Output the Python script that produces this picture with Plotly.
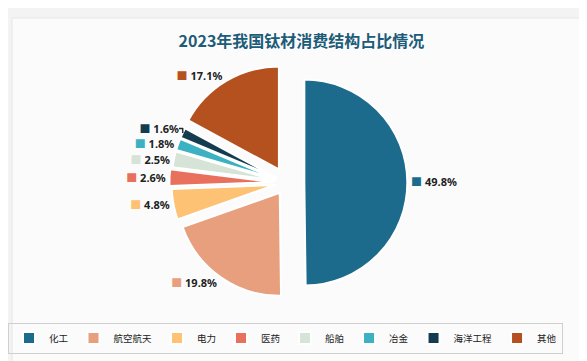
import plotly.graph_objects as go

categories = ["化工", "航空航天", "电力", "医药", "船舶", "冶金", "海洋工程", "其他"]
shares = [49.8, 19.8, 4.8, 2.6, 2.5, 1.8, 1.6, 17.1]
colors = ["#1d6b8c", "#e89f7d", "#fdc273", "#e9705d", "#d6e4d7", "#3cb1c1", "#133c50", "#b5511f"]
pulls = [0.17, 0.12, 0.12, 0.14, 0.12, 0.12, 0.12, 0.15]

W, H = 587, 361
fig = go.Figure()
fig.add_trace(go.Pie(
    labels=categories,
    values=shares,
    sort=False,
    direction="clockwise",
    rotation=0,
    pull=pulls,
    marker=dict(colors=colors, line=dict(color="white", width=2)),
    textposition="outside",
    texttemplate="<span style='color:%{color}'>■</span> <b>%{value:.1f}%</b>",
    textfont=dict(family="Noto Sans, Noto Sans CJK SC", size=11, color="#222"),
    hoverinfo="label+percent",
    domain=dict(x=[0.2697, 0.6803], y=[0.182, 0.85]),
    showlegend=True,
))

fig.update_layout(
    width=W, height=H,
    margin=dict(l=0, r=0, t=0, b=0),
    paper_bgcolor="#f3f3f3",
    plot_bgcolor="#f3f3f3",
    title=dict(
        text="<b>2023年我国钛材消费结构占比情况</b>",
        x=0.5, xanchor="center", y=1 - 33 / H, yanchor="middle",
        font=dict(family="Noto Sans CJK SC", size=16, color="#1d5c78"),
    ),
    legend=dict(
        orientation="h", x=0.0, xanchor="left", y=1 - 330 / H, yanchor="middle",
        bordercolor="#cfcfcf", borderwidth=1, bgcolor="rgba(255,255,255,0)",
        font=dict(family="Noto Sans CJK SC", size=9.5, color="#222"),
        itemwidth=30,
    ),
    shapes=[dict(type="rect", xref="paper", yref="paper",
                 x0=4 / W, x1=583 / W, y0=1 - 355 / H, y1=1 - 10 / H,
                 fillcolor="#fbfbfb", line=dict(color="#e6e6e6", width=1), layer="below")],
)

fig.write_html("out.html")
